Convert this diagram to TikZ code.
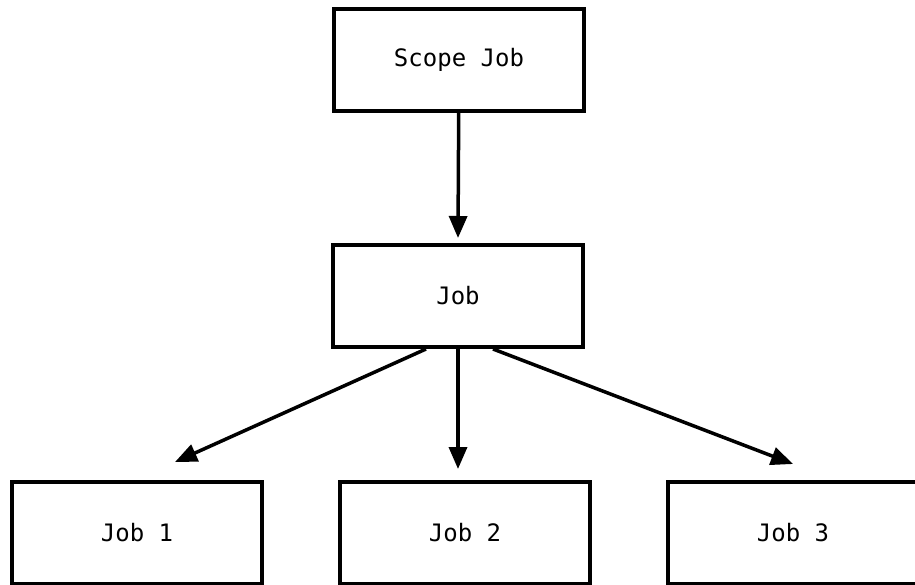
\documentclass[tikz,border=0pt]{standalone}
\usepackage{fontspec}
\setmonofont{DejaVu Sans Mono}
\usetikzlibrary{arrows.meta}

\begin{document}
\begin{tikzpicture}[x=1pt,y=-1pt,
  jobbox/.style={draw,line width=4pt,rectangle,minimum width=250pt,minimum height=102pt,
    font=\ttfamily\fontsize{24}{28}\selectfont},
  link/.style={line width=3.5pt,-{Triangle[length=22pt,width=18pt]}}]
\useasboundingbox (0,0) rectangle (915,585);
\clip (0,0) rectangle (915,585);
\node[jobbox] (scope) at (459,60) {Scope Job};
\node[jobbox] (job) at (458,296) {Job};
\node[jobbox] (job1) at (137,533) {Job 1};
\node[jobbox] (job2) at (465,533) {Job 2};
\node[jobbox] (job3) at (793,533) {Job 3};
\coordinate (tip1) at (175,462);
\coordinate (tip2) at (458,469);
\coordinate (tip3) at (793,464);
\draw[link] (scope) -- ([yshift=5pt]job.north);
\draw[link] ([xshift=-32pt]job.south) -- (tip1);
\draw[link] (job.south) -- (tip2);
\draw[link] ([xshift=35pt]job.south) -- (tip3);
\end{tikzpicture}
\end{document}
